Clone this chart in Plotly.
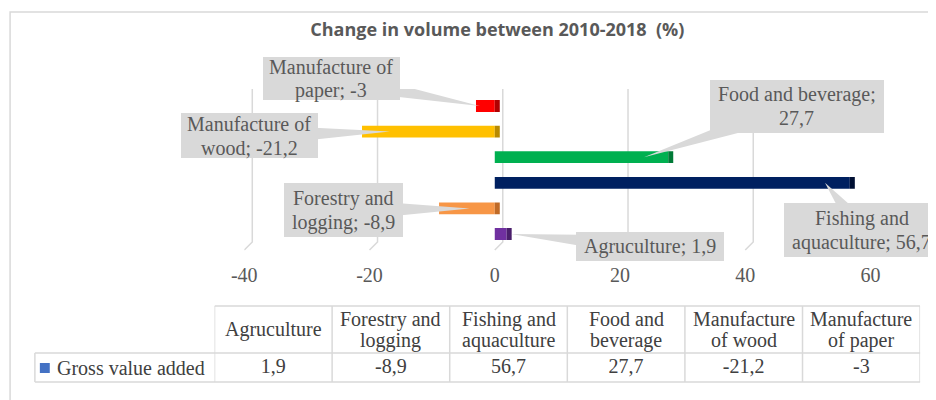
import math
import plotly.graph_objects as go

# ---------------- data ----------------
categories = ["Agruculture", "Forestry and logging", "Fishing and aquaculture",
              "Food and beverage", "Manufacture of wood", "Manufacture of paper"]
values = [1.9, -8.9, 56.7, 27.7, -21.2, -3]
series_name = "Gross value added"
table_headers = ["Agruculture", "Forestry and<br>logging", "Fishing and<br>aquaculture",
                 "Food and<br>beverage", "Manufacture<br>of wood", "Manufacture<br>of paper"]
callout_names = ["Agruculture;", "Forestry and<br>logging;", "Fishing and<br>aquaculture;",
                 "Food and beverage;<br>", "Manufacture of<br>wood;", "Manufacture of<br>paper;"]
x_ticks = [-40, -20, 0, 20, 40, 60]
title_text = "Change in volume between 2010-2018  (%)"

# ---------------- styles / layout ----------------
W, H = 936, 400
SERIF = "Liberation Serif"
TXT = "#595959"
TBL = "#404040"
GRID = "#d9d9d9"
bar_colors = ["#7030a0", "#f79646", "#002060", "#00b050", "#ffc000", "#ff0000"]
cap_colors = ["#4a1f6b", "#c06a26", "#000f33", "#007a37", "#b88a00", "#b00000"]

PLOT_L, PLOT_R, PLOT_T, PLOT_B = 243, 874, 89, 250
Y_RANGE = [-0.625, 5.664]
TBL_L, TBL_C, TBL_R = 32, 213, 924
TBL_T, TBL_M, TBL_B = 306, 353, 382
CALLOUT_LINE = 24
HEAD_LINE = 21

# callout layout: (offset x px, offset y px, box w, box h, tip fraction along bar)
callout_layout = [
    (139, 12.5, 148, 29, 1.37),
    (-126.5, 1.6, 119, 54, 0.45),
    (37, 47.2, 156, 54, 0.93),
    (153, -50.7, 174, 53, 0.86),
    (-140.5, 3.9, 137, 45, 0.79),
    (-148.5, -27.5, 137, 43, 0.80),
]


def fmt(v):
    return ("%g" % v).replace(".", ",")


# page-pixel -> paper fraction (as the page renders the figure)
def X(p):
    return (p - 18) / 920


def Y(p):
    return 1 - (p - 8) / 400


fig = go.Figure()

# main bars
fig.add_trace(go.Bar(
    y=categories, x=values, orientation="h", width=0.46,
    marker=dict(color=bar_colors, line=dict(width=0)),
    name=series_name, hoverinfo="x+y",
))
# darker side faces (3-D look) at the right end of every bar
fig.add_trace(go.Bar(
    y=categories, x=[0.8] * len(values), base=[max(v, 0) for v in values],
    orientation="h", width=0.46,
    marker=dict(color=cap_colors, line=dict(width=0)),
    hoverinfo="skip", showlegend=False,
))

# data table value row (on its own category axes)
fig.add_trace(go.Scatter(
    x=categories, y=[series_name] * len(values), xaxis="x2", yaxis="y2",
    mode="text", text=[fmt(v) for v in values], textposition="middle center",
    textfont=dict(family=SERIF, size=20, color=TBL), hoverinfo="skip",
    cliponaxis=False, showlegend=False,
))

shapes = []
# slanted gridlines (3-D floor)
for t in x_ticks:
    shapes.append(dict(
        type="path", xref="x", yref="paper", xsizemode="pixel", xanchor=t,
        path=f"M 0,{Y(PLOT_B)} L 8,{Y(PLOT_B - 8)} L 8,{Y(PLOT_T)}",
        line=dict(color=GRID, width=1.5), layer="below",
    ))

annotations = []
for cat, v, name, (ox, oy, bw, bh, frac) in zip(categories, values, callout_names, callout_layout):
    tip_x = v * frac
    dx, dy = ox, -oy
    L = math.hypot(dx, dy)
    nx, ny = -dy / L, dx / L
    hw = 11
    p1 = (dx + nx * hw, dy + ny * hw)
    p2 = (dx - nx * hw, dy - ny * hw)
    # wedge pointer
    shapes.append(dict(
        type="path", xref="x", yref="y", xsizemode="pixel", ysizemode="pixel",
        xanchor=tip_x, yanchor=cat,
        path=f"M 0,0 L {p1[0]:.1f},{p1[1]:.1f} L {p2[0]:.1f},{p2[1]:.1f} Z",
        fillcolor=GRID, line=dict(width=0), layer="above",
    ))
    # box
    annotations.append(dict(
        x=tip_x, y=cat, xref="x", yref="y", xshift=ox, yshift=-oy,
        text=" ", showarrow=False, width=bw, height=bh,
        xanchor="center", yanchor="middle",
        bgcolor=GRID, borderpad=0, borderwidth=0,
        font=dict(family=SERIF, size=20, color=TXT),
    ))
    # text lines
    sep = "" if name.endswith("<br>") else " "
    lines = f"{name}{sep}{fmt(v)}".split("<br>")
    n = len(lines)
    for i, line in enumerate(lines):
        annotations.append(dict(
            x=tip_x, y=cat, xref="x", yref="y", xshift=ox,
            yshift=-(oy + (i - (n - 1) / 2) * CALLOUT_LINE),
            text=line, showarrow=False, xanchor="center", yanchor="middle",
            font=dict(family=SERIF, size=20, color=TXT),
        ))

# table header text (one annotation per line for tight line spacing)
for cat, head in zip(categories, table_headers):
    lines = head.split("<br>")
    n = len(lines)
    for i, line in enumerate(lines):
        annotations.append(dict(
            x=cat, xref="x2", y=Y((TBL_T + TBL_M) / 2), yref="paper",
            yshift=-(i - (n - 1) / 2) * HEAD_LINE, text=line, showarrow=False,
            xanchor="center", yanchor="middle",
            font=dict(family=SERIF, size=20, color=TBL),
        ))
# legend cell
annotations.append(dict(
    x=X(52), y=Y((TBL_M + TBL_B) / 2), xref="paper", yref="paper",
    text=series_name, showarrow=False, xanchor="left", yanchor="middle",
    font=dict(family=SERIF, size=20, color=TBL),
))
shapes.append(dict(type="rect", xref="paper", yref="paper",
                   x0=X(37), x1=X(47), y0=Y(373), y1=Y(363),
                   fillcolor="#4472c4", line=dict(width=0)))

# table grid
tline = dict(color=GRID, width=1.5)
for i in range(len(categories) + 1):
    shapes.append(dict(type="line", xref="x2", yref="paper", x0=i - 0.5, x1=i - 0.5,
                       y0=Y(TBL_B), y1=Y(TBL_T), line=tline))
shapes.append(dict(type="line", xref="x2", yref="paper", x0=-0.5, x1=len(categories) - 0.5,
                   y0=Y(TBL_T), y1=Y(TBL_T), line=tline))
for yy in (TBL_M, TBL_B):
    shapes.append(dict(type="line", xref="paper", yref="paper", x0=X(TBL_L), x1=X(TBL_R),
                       y0=Y(yy), y1=Y(yy), line=tline))
shapes.append(dict(type="line", xref="paper", yref="paper", x0=X(TBL_L), x1=X(TBL_L),
                   y0=Y(TBL_B), y1=Y(TBL_M), line=tline))

# outer chart border
shapes.append(dict(type="rect", xref="paper", yref="paper",
                   x0=X(7), x1=1.05, y0=-0.05, y1=Y(12),
                   line=dict(color=GRID, width=1.5), fillcolor="rgba(0,0,0,0)", layer="below"))

fig.update_layout(
    width=W, height=H,
    margin=dict(l=0, r=0, t=0, b=0),
    paper_bgcolor="white", plot_bgcolor="rgba(0,0,0,0)",
    showlegend=False, barmode="overlay",
    title=dict(text=title_text, x=X(499), xanchor="center", y=Y(30), yanchor="middle",
               font=dict(family="Open Sans", size=18, color=TXT, weight="bold")),
    xaxis=dict(domain=[X(PLOT_L), X(PLOT_R)], range=[-40, 60], tickvals=x_ticks,
               ticktext=[str(t) for t in x_ticks],
               showgrid=False, zeroline=False, showline=False, ticks="",
               tickfont=dict(family=SERIF, size=20, color=TXT), ticklabelstandoff=11,
               fixedrange=True),
    yaxis=dict(domain=[Y(PLOT_B), Y(PLOT_T)], range=Y_RANGE, type="category",
               categoryorder="array", categoryarray=categories,
               showgrid=False, zeroline=False, showline=False, showticklabels=False,
               ticks="", fixedrange=True),
    xaxis2=dict(domain=[X(TBL_C), X(TBL_R)], range=[-0.5, len(categories) - 0.5],
                type="category", categoryorder="array", categoryarray=categories,
                visible=False, anchor="y2", fixedrange=True),
    yaxis2=dict(domain=[Y(TBL_B), Y(TBL_M)], range=[-0.5, 0.5], type="category",
                categoryarray=[series_name], visible=False, anchor="x2", fixedrange=True),
    shapes=shapes, annotations=annotations,
)

fig.write_html("out.html")
